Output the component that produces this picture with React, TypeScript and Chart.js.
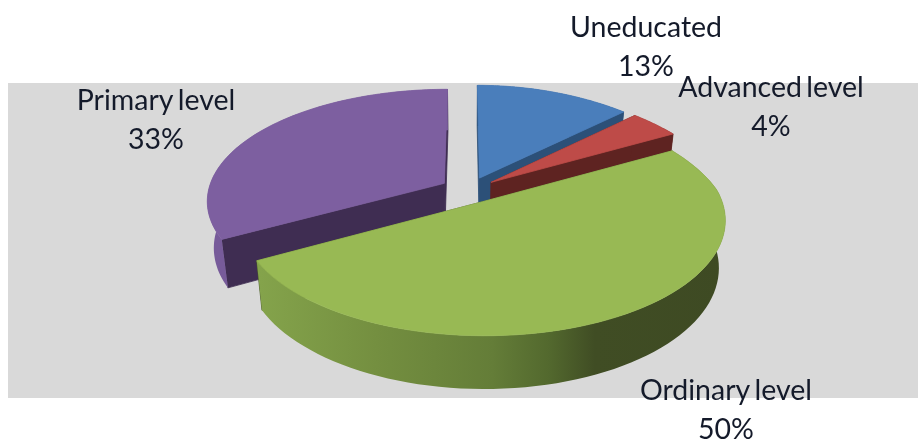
import React, { useEffect, useRef } from "react";
import { Chart, registerables } from "chart.js";

Chart.register(...registerables);

const categories = ["Uneducated", "Advanced level", "Ordinary level", "Primary level"];
const shares = [13, 4, 50, 33];
const shareLabels = ["13%", "4%", "50%", "33%"];
const faceColours = ["#4a7ebb", "#be4b48", "#98b954", "#7d5fa0"];
const wallColours = ["#2c5078", "#5e2321", "#4a5c28", "#3f2d52"];
const rimColours = ["#2c5078", "#5e2321", "#7d9b45", "#775b9a"];

const labelAnchors = [
  { x: 646, y: 37 },
  { x: 771, y: 97 },
  { x: 726, y: 400 },
  { x: 156, y: 110 },
];
const lineGap = 39;

// Projection of the unit pie onto the page (a perspective view of a tilted disc)
const VIEW = { x0: 468.5, y0: 190, rx: 236, ry: 110, persp: 0.15, explode: 0.12, depth: 46, kx: 0.975, ky: 1.05, farRight: 14 };

type P = { x: number; y: number };
const project = (x: number, y: number, lower: boolean): P => {
  const w = 1 - VIEW.persp * y;
  let px = (VIEW.rx * x) / w + VIEW.farRight * Math.max(x, 0) * Math.min(y, 0);
  let py = (VIEW.ry * y) / w;
  if (lower) {
    px *= VIEW.kx;
    py = py * VIEW.ky + VIEW.depth;
  }
  return { x: VIEW.x0 + px, y: VIEW.y0 + py };
};

const poly = (ctx: CanvasRenderingContext2D, pts: P[], fill: any, stroke: boolean) => {
  ctx.beginPath();
  pts.forEach((p, i) => (i ? ctx.lineTo(p.x, p.y) : ctx.moveTo(p.x, p.y)));
  ctx.closePath();
  ctx.fillStyle = fill;
  ctx.fill();
  if (stroke) {
    ctx.strokeStyle = fill;
    ctx.lineWidth = 0.8;
    ctx.stroke();
  }
};

const greenRim = (ctx: CanvasRenderingContext2D) => {
  const g = ctx.createLinearGradient(260, 0, 725, 0);
  g.addColorStop(0, "#84a34b");
  g.addColorStop(0.25, "#748f40");
  g.addColorStop(0.5, "#647d38");
  g.addColorStop(0.62, "#53692e");
  g.addColorStop(0.72, "#404d24");
  g.addColorStop(1, "#3e4a23");
  return g;
};

const pie3d = {
  id: "pie3d",
  beforeDraw(chart: any) {
    const { ctx } = chart;
    ctx.save();
    ctx.fillStyle = "#d9d9d9";
    ctx.fillRect(8, 83, 910, 315);
    ctx.restore();
  },
  beforeDatasetsDraw(chart: any) {
    const { ctx } = chart;
    const arcs = chart.getDatasetMeta(0).data.map((arc: any, i: number) => {
      const { startAngle, endAngle } = arc.getProps(["startAngle", "endAngle"], true);
      const mid = (startAngle + endAngle) / 2;
      return { i, startAngle, endAngle, mid };
    });
    arcs.sort((a: any, b: any) => Math.sin(a.mid) - Math.sin(b.mid));
    ctx.save();
    for (const a of arcs) {
      const ox = Math.cos(a.mid) * VIEW.explode;
      const oy = Math.sin(a.mid) * VIEW.explode;
      const n = 80;
      const world: [number, number][] = [];
      for (let k = 0; k <= n; k++) {
        const t = a.startAngle + ((a.endAngle - a.startAngle) * k) / n;
        world.push([ox + Math.cos(t), oy + Math.sin(t)]);
      }
      const top = world.map(([x, y]) => project(x, y, false));
      const low = world.map(([x, y]) => project(x, y, true));
      const apexT = project(ox, oy, false);
      const apexB = project(ox, oy, true);
      const wall = wallColours[a.i];
      poly(ctx, [apexT, top[0], low[0], apexB], wall, true);
      poly(ctx, [apexT, top[n], low[n], apexB], wall, true);
      const rimFill = a.i === 2 ? greenRim(ctx) : rimColours[a.i];
      poly(ctx, [...top, ...low.slice().reverse()], rimFill, false);
      poly(ctx, [apexT, ...top], faceColours[a.i], true);
    }
    ctx.restore();
    return false;
  },
  afterDraw(chart: any) {
    const { ctx } = chart;
    ctx.save();
    ctx.font = '28.5px Lato, "Open Sans", sans-serif';
    (ctx as any).wordSpacing = "-3px";
    ctx.fillStyle = "#141a2a";
    ctx.textAlign = "center";
    ctx.textBaseline = "alphabetic";
    categories.forEach((name, i) => {
      const a = labelAnchors[i];
      ctx.fillText(name, a.x, a.y);
      ctx.fillText(shareLabels[i], a.x, a.y + lineGap);
    });
    ctx.restore();
  },
};

export default function App() {
  const ref = useRef<HTMLCanvasElement>(null);
  useEffect(() => {
    document.body.style.margin = "0";
    const chart = new Chart(ref.current as HTMLCanvasElement, {
      type: "pie",
      data: {
        labels: categories,
        datasets: [{ data: shares, backgroundColor: faceColours, borderWidth: 0 }],
      },
      options: {
        animation: false,
        responsive: false,
        plugins: { legend: { display: false }, tooltip: { enabled: false } },
      },
      plugins: [pie3d],
    } as any);
    return () => chart.destroy();
  }, []);
  return (
    <canvas
      ref={ref}
      width={918}
      height={445}
      style={{ display: "block", width: 918, height: 445, filter: "blur(0.7px)" }}
    />
  );
}
